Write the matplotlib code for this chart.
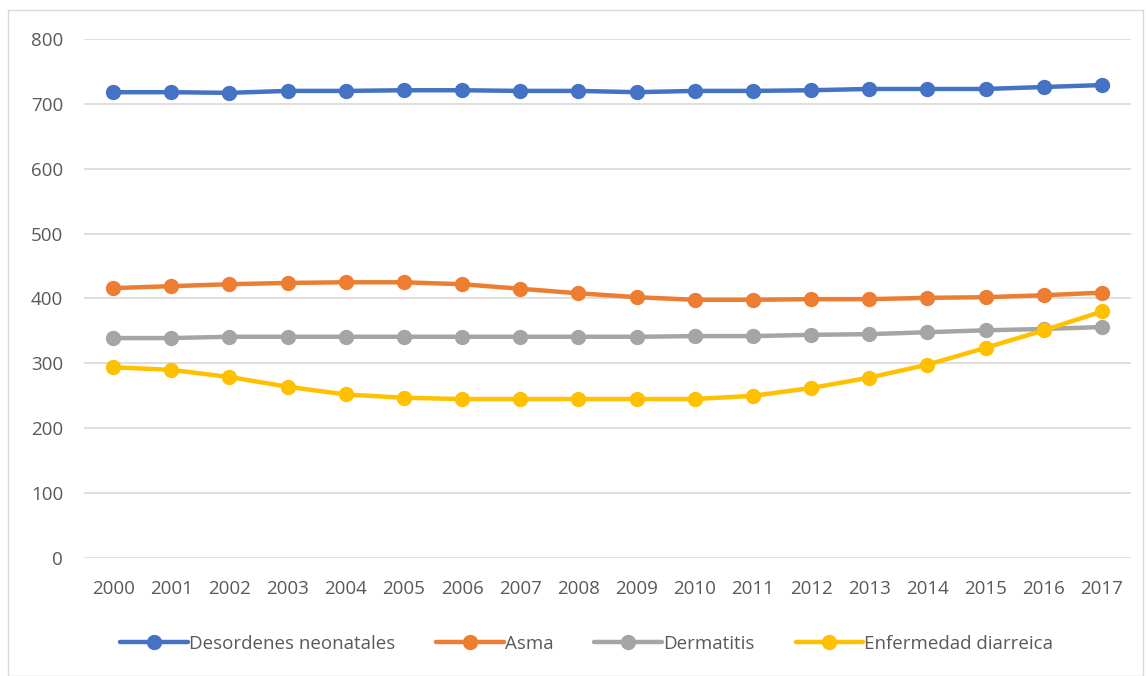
import numpy as np
import matplotlib.pyplot as plt
from matplotlib.patches import Rectangle

years = [str(y) for y in range(2000, 2018)]
neonatales = [718, 718, 717, 720, 720, 721, 721, 720, 720, 718, 720, 720, 721, 723, 723, 723, 726, 729]
asma = [416, 419, 422, 424, 425, 425, 422, 415, 408, 402, 398, 398, 399, 399, 401, 402, 405, 409]
dermatitis = [339, 339, 341, 341, 341, 341, 341, 341, 341, 341, 342, 342, 344, 345, 348, 351, 353, 356]
diarreica = [294, 290, 279, 264, 252, 247, 245, 245, 245, 245, 245, 250, 262, 278, 298, 324, 351, 380]

series = [
    ('Desordenes neonatales', neonatales, '#4472c4'),
    ('Asma', asma, '#ed7d31'),
    ('Dermatitis', dermatitis, '#a5a5a5'),
    ('Enfermedad diarreica', diarreica, '#ffc000'),
]

plt.rcParams['font.family'] = ['Open Sans', 'DejaVu Sans']

fig = plt.figure(figsize=(11.46, 6.76), dpi=100)
fig.patches.append(Rectangle((0.007, 0.0), 0.99, 0.985, transform=fig.transFigure,
                             fill=False, edgecolor='#d9d9d9', linewidth=1))
ax = fig.add_axes([0.0733, 0.1746, 0.9137, 0.7677])

x = np.arange(len(years))
for name, vals, col in series:
    ax.plot(x, vals, color=col, linewidth=3.2, marker='o', markersize=10,
            label=name, solid_capstyle='round')

ax.set_xlim(-0.5, len(years) - 0.5)
ax.set_ylim(0, 800)
ax.set_yticks(range(0, 801, 100))
ax.set_xticks(x)
ax.set_xticklabels(years)
ax.grid(axis='y', color='#d9d9d9', linewidth=1.2)
ax.set_axisbelow(True)
for s in ax.spines.values():
    s.set_visible(False)
ax.tick_params(length=0, labelsize=13.5, labelcolor='#595959')
ax.tick_params(axis='x', pad=16)
ax.tick_params(axis='y', pad=15)

ax.legend(loc='upper center', bbox_to_anchor=(0.48, -0.115), ncol=4, frameon=False,
          fontsize=13.5, labelcolor='#595959', handlelength=3.6, handletextpad=0.05,
          columnspacing=2.2)

plt.savefig('out.png')
plt.close()
